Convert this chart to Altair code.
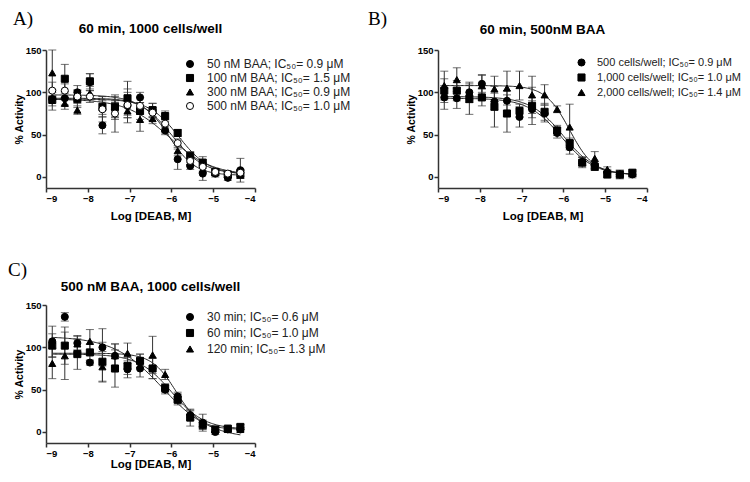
import altair as alt
import numpy as np
import pandas as pd

# ---------------- data ----------------
log_dose = [-8.85, -8.55, -8.25, -7.95, -7.65, -7.35, -7.05, -6.75,
            -6.45, -6.15, -5.85, -5.55, -5.25, -4.95, -4.65, -4.35]
x_ticks = [-9, -8, -7, -6, -5, -4]
y_ticks = [0, 50, 100, 150]
x_title = "Log [DEAB, M]"
y_title = "% Activity"

# Panel A
a_letter = "A)"
a_title = "60 min, 1000 cells/well"
a_series = ["50 nM BAA; IC₅₀= 0.9 μM", "100 nM BAA; IC₅₀= 1.5 μM",
            "300 nM BAA; IC₅₀= 0.9 μM", "500 nM BAA; IC₅₀= 1.0 μM"]
a_50_mean = [92, 93, 100, 112, 61, 80, 84, 94, 79, 55, 21, 13, 4, 4, -1, 8]
a_50_err = [8, 8, 8, 10, 10, 10, 20, 6, 8, 5, 12, 4, 8, 4, 3, 14]
a_100_mean = [91, 116, 92, 113, 83, 83, 93, 78, 79, 72, 52, 25, 17, 6, 3, 4]
a_100_err = [12, 17, 10, 9, 12, 12, 20, 10, 8, 6, 4, 5, 7, 4, 3, 5]
a_300_mean = [123, 87, 79, 99, 82, 78, 78, 68, 69, 57, 31, 18, 9, 5, 3, 2]
a_300_err = [27, 7, 5, 8, 8, 10, 8, 14, 6, 5, 6, 4, 4, 3, 2, 3]
a_500_mean = [102, 102, 95, 95, 80, 75, 85, 84, 76, 63, 40, 19, 12, 6, 4, 5]
a_500_err = [10, 8, 8, 7, 15, 22, 15, 10, 6, 5, 5, 6, 5, 3, 2, 4]
a_fit_top = [93, 92, 92, 97]
a_fit_bottom = [2, 3, 2, 3]
a_fit_logic50 = [-6.05, -5.82, -6.05, -6.0]
a_fit_hill = [1.4, 1.2, 0.85, 1.1]

# Panel B
b_letter = "B)"
b_title = "60 min, 500nM BAA"
b_series = ["500 cells/well; IC₅₀= 0.9 μM", "1,000 cells/well; IC₅₀= 1.0 μM",
            "2,000 cells/well; IC₅₀= 1.4 μM"]
b_500_mean = [94, 93, 100, 110, 89, 90, 71, 80, 75, 52, 35, 18, 14, 5, 3, 3]
b_500_err = [14, 12, 8, 10, 10, 12, 12, 10, 10, 6, 8, 5, 4, 4, 5, 4]
b_1000_mean = [102, 102, 92, 94, 83, 75, 78, 84, 77, 55, 40, 17, 12, 3, 3, 5]
b_1000_err = [14, 12, 18, 10, 24, 22, 8, 22, 10, 6, 6, 6, 4, 4, 5, 4]
b_2000_mean = [108, 115, 100, 108, 104, 105, 108, 97, 97, 80, 59, 19, 22, 9, 4, 4]
b_2000_err = [17, 14, 12, 13, 15, 20, 17, 22, 12, 4, 27, 5, 8, 3, 3, 3]
b_fit_top = [93, 95, 108]
b_fit_bottom = [2, 2, 3]
b_fit_logic50 = [-6.05, -6.0, -5.85]
b_fit_hill = [1.1, 1.1, 1.5]

# Panel C
c_letter = "C)"
c_title = "500 nM BAA, 1000 cells/well"
c_series = ["30 min; IC₅₀= 0.6 μM", "60 min; IC₅₀= 1.0 μM", "120 min; IC₅₀= 1.3 μM"]
c_30_mean = [107, 136, 105, 82, 100, 90, 74, 75, 75, 50, 42, 20, 11, 0, 3, 3]
c_30_err = [18, 5, 8, 3, 22, 14, 10, 10, 12, 5, 5, 6, 10, 3, 2, 2]
c_60_mean = [102, 102, 92, 94, 83, 75, 78, 84, 75, 52, 38, 17, 8, 3, 4, 6]
c_60_err = [14, 22, 18, 10, 23, 22, 10, 8, 12, 5, 6, 10, 5, 3, 2, 3]
c_120_mean = [81, 90, 104, 107, 77, 90, 93, 84, 91, 68, 40, 20, 10, 3, 3, 3]
c_120_err = [18, 28, 10, 14, 18, 14, 12, 8, 22, 6, 5, 5, 4, 3, 2, 2]
c_fit_top = [113, 92, 93]
c_fit_bottom = [-8, 3, 3]
c_fit_logic50 = [-6.22, -6.0, -5.89]
c_fit_hill = [0.75, 1.1, 1.5]

shapes4 = ["circle", "square", "triangle-up", "circle"]
fills4 = ["black", "black", "black", "white"]

SANS = "Liberation Sans"
W, H = 209, 138
YDOM = [-13, 150]


def make_panel(letter, title, names, means, errs, tops, bottoms, logic50s, hills,
               letter_xy, title_y, legend_xy, row_pad, xtitle_pad, leg_font, leg_off):
    pts = []
    for name, mv, ev in zip(names, means, errs):
        for x, m, e in zip(log_dose, mv, ev):
            pts.append({"series": name, "x": x, "y": m, "lo": m - e, "hi": m + e})
    pts = pd.DataFrame(pts)

    cx = np.linspace(log_dose[0], log_dose[-1], 150)
    crv = []
    for name, t, b, l, h in zip(names, tops, bottoms, logic50s, hills):
        for x in cx:
            crv.append({"series": name, "x": x,
                        "y": b + (t - b) / (1 + 10 ** ((x - l) * h))})
    crv = pd.DataFrame(crv)

    xscale = alt.Scale(domain=[-9, -4], nice=False, zero=False)
    yscale = alt.Scale(domain=YDOM, nice=False, zero=False)
    xaxis = alt.Axis(values=x_ticks, title=x_title, titlePadding=xtitle_pad)
    yaxis = alt.Axis(values=y_ticks, title=y_title)
    X = alt.X("x:Q", scale=xscale, axis=xaxis)

    legend = alt.Legend(orient="none", legendX=legend_xy[0], legendY=legend_xy[1],
                        title=None, labelFont=SANS, labelFontSize=leg_font,
                        labelColor="#222", symbolSize=50, symbolStrokeColor="black",
                        symbolStrokeWidth=1, rowPadding=row_pad, padding=0,
                        labelOffset=leg_off, labelLimit=400)
    n = len(names)
    shape = alt.Shape("series:N", scale=alt.Scale(domain=names, range=shapes4[:n]),
                      legend=legend)
    fill = alt.Fill("series:N", scale=alt.Scale(domain=names, range=fills4[:n]),
                    legend=legend)
    stroke = alt.Stroke("series:N", scale=alt.Scale(domain=names, range=["black"] * n),
                        legend=legend)

    lines = alt.Chart(crv).mark_line(color="#222", strokeWidth=1).encode(
        x=X, y=alt.Y("y:Q", scale=yscale, axis=yaxis), detail="series:N")
    bars = alt.Chart(pts).mark_rule(color="#333", strokeWidth=1).encode(
        x=X, y=alt.Y("lo:Q", scale=yscale, axis=yaxis), y2="hi:Q")
    cap_lo = alt.Chart(pts).mark_tick(color="#333", thickness=1, size=8,
                                      orient="horizontal").encode(
        x=X, y=alt.Y("lo:Q", scale=yscale, axis=yaxis))
    cap_hi = alt.Chart(pts).mark_tick(color="#333", thickness=1, size=8,
                                      orient="horizontal").encode(
        x=X, y=alt.Y("hi:Q", scale=yscale, axis=yaxis))
    points = alt.Chart(pts).mark_point(size=50, strokeWidth=1, opacity=1,
                                       fillOpacity=1).encode(
        x=X, y=alt.Y("y:Q", scale=yscale, axis=yaxis), shape=shape, fill=fill,
        stroke=stroke)

    lab = alt.Chart(pd.DataFrame({"t": [letter]})).mark_text(
        font="Liberation Serif", fontSize=19, align="left", baseline="middle",
        color="black").encode(x=alt.value(letter_xy[0]), y=alt.value(letter_xy[1]),
                              text="t:N")
    ttl = alt.Chart(pd.DataFrame({"t": [title]})).mark_text(
        font=SANS, fontSize=13.5, fontWeight="bold", align="center",
        baseline="middle", color="black").encode(
        x=alt.value(W / 2), y=alt.value(title_y), text="t:N")

    return alt.layer(lines, bars, cap_lo, cap_hi, points, lab, ttl).properties(
        width=W, height=H)


pa = make_panel(a_letter, a_title, a_series,
                [a_50_mean, a_100_mean, a_300_mean, a_500_mean],
                [a_50_err, a_100_err, a_300_err, a_500_err],
                a_fit_top, a_fit_bottom, a_fit_logic50, a_fit_hill,
                (-33, -31), -21, (138, 8), 2, 8, 12, 11)
pb = make_panel(b_letter, b_title, b_series,
                [b_500_mean, b_1000_mean, b_2000_mean],
                [b_500_err, b_1000_err, b_2000_err],
                b_fit_top, b_fit_bottom, b_fit_logic50, b_fit_hill,
                (-70, -31), -20, (138, 7), 2, 8, 11, 10)
pc = make_panel(c_letter, c_title, c_series,
                [c_30_mean, c_60_mean, c_120_mean],
                [c_30_err, c_60_err, c_120_err],
                c_fit_top, c_fit_bottom, c_fit_logic50, c_fit_hill,
                (-38, -35), -18, (138, 6), 4, 1, 12, 11)

top = alt.hconcat(pa, pb, spacing=17).resolve_scale(
    x="independent", y="independent", shape="independent", fill="independent",
    stroke="independent")
chart = alt.vconcat(top, pc, spacing=39).resolve_scale(
    x="independent", y="independent", shape="independent", fill="independent",
    stroke="independent"
).properties(padding={"left": 0, "top": 2, "right": 0, "bottom": 0}
).configure_view(stroke=None).configure_axis(
    grid=False, domainColor="#333", domainWidth=1.5, tickColor="#333",
    tickWidth=1.5, tickSize=4, labelFont=SANS, labelFontSize=9.5,
    labelFontWeight="bold", labelColor="black", labelPadding=1,
    titleFont=SANS, titleFontWeight="bold", titleColor="black"
).configure_axisX(titleFontSize=11.5).configure_axisY(titleFontSize=10.5,
                                                       titlePadding=1)

chart.save("out.html", embed_options={"renderer": "svg", "actions": False})
